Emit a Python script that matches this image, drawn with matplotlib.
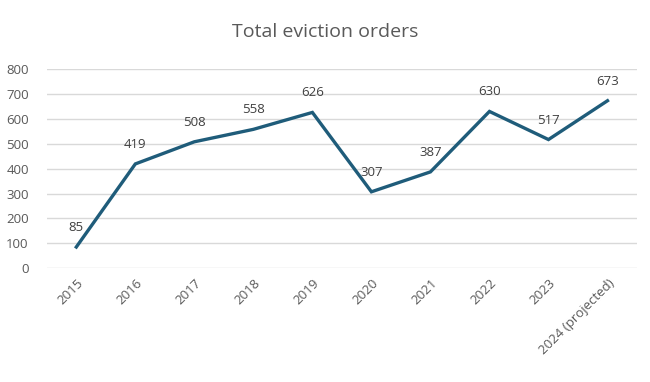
import matplotlib
matplotlib.use("Agg")
import matplotlib.pyplot as plt

years = ["2015", "2016", "2017", "2018", "2019", "2020", "2021", "2022", "2023", "2024 (projected)"]
orders = [85, 419, 508, 558, 626, 307, 387, 630, 517, 673]
yticks = [0, 100, 200, 300, 400, 500, 600, 700, 800]

plt.rcParams['font.family'] = ['Open Sans', 'DejaVu Sans']

fig = plt.figure(figsize=(6.5, 3.82), dpi=100)
ax = fig.add_axes([0.072, 0.298, 0.908, 0.521])

x = list(range(len(years)))
ax.plot(x, orders, color='#1F5C7A', lw=2.4, solid_joinstyle='miter', zorder=3)
for xi, v in zip(x, orders):
    ax.annotate(str(v), (xi, v), xytext=(0, 14), textcoords='offset points',
                ha='center', va='center', fontsize=9.5, color='#404040')

ax.set_xlim(-0.5, len(years) - 0.5)
ax.set_ylim(0, 800)
ax.set_yticks(yticks)
ax.set_yticklabels([str(t) for t in yticks])
ax.set_xticks(x)
ax.set_xticklabels(years, rotation=45, ha='right', rotation_mode='anchor')
ax.tick_params(axis='both', length=0, labelsize=9.5, labelcolor='#595959')
ax.tick_params(axis='y', pad=13)
ax.tick_params(axis='x', pad=6)
ax.grid(axis='y', color='#D9D9D9', lw=1)
ax.set_axisbelow(True)
for s in ax.spines.values():
    s.set_visible(False)

fig.text(0.5, 0.915, "Total eviction orders", ha='center', va='center', fontsize=14, color='#595959')

fig.savefig("out.png", dpi=100)
